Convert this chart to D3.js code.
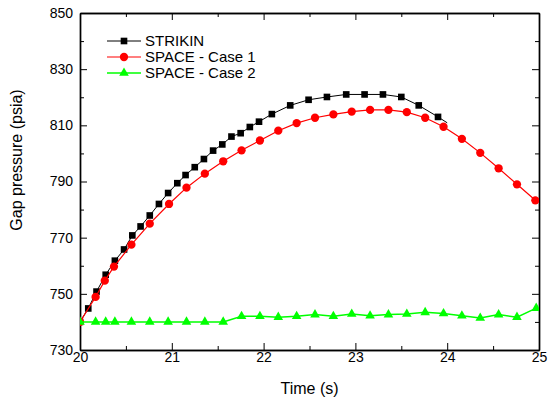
<!DOCTYPE html>
<html>
<head>
<meta charset="utf-8">
<script src="https://cdn.jsdelivr.net/npm/d3@7"></script>
<style>
    body { margin: 0; background: #fff; }
    text { font-family: Arial, "Liberation Sans", sans-serif; fill: #000; }
</style>
</head>
<body>
<div id="chart"></div>
<script>
// STRIKIN (black squares); last point is the end of the line, no marker there
var stkTime = [20.0, 20.09, 20.18, 20.28, 20.38, 20.48, 20.57, 20.66, 20.76, 20.86, 20.96,
               21.06, 21.15, 21.25, 21.35, 21.45, 21.55, 21.65, 21.75, 21.85, 21.95,
               22.09, 22.29, 22.49, 22.69, 22.9, 23.1, 23.3, 23.5, 23.69, 23.9, 24.0];
var stkVal  = [740, 744.8, 750.8, 756.8, 761.8, 765.8, 770.8, 774.0, 777.9, 782.0, 785.9,
               789.4, 792.3, 795.1, 798.0, 801.0, 803.2, 806.0, 807.2, 809.4, 811.3,
               814.0, 817.1, 819.1, 820.1, 821.0, 821.0, 821.0, 820.1, 817.1, 813.0, 810.9];

// SPACE - Case 1 (red circles)
var case1Time = [20.0, 20.17, 20.27, 20.37, 20.56, 20.76, 20.97, 21.16, 21.36, 21.56, 21.76,
                 21.96, 22.16, 22.36, 22.56, 22.76, 22.96, 23.16, 23.36, 23.56, 23.76,
                 23.96, 24.16, 24.36, 24.56, 24.76, 24.96];
var case1Val  = [740, 748.9, 754.7, 759.7, 767.5, 775.0, 782.0, 787.8, 792.8, 797.2, 801.1,
                 804.6, 808.1, 810.8, 812.7, 813.9, 814.9, 815.5, 815.5, 814.7, 812.7,
                 809.5, 805.2, 800.2, 794.7, 789.0, 783.3];

// SPACE - Case 2 (green triangles)
var case2Time = [20.0, 20.17, 20.28, 20.38, 20.56, 20.76, 20.96, 21.16, 21.36, 21.56, 21.76,
                 21.96, 22.16, 22.36, 22.56, 22.76, 22.96, 23.16, 23.36, 23.56, 23.76,
                 23.96, 24.16, 24.36, 24.56, 24.76, 24.97];
var case2Val  = [740, 740, 740, 740, 740, 740, 740, 740, 740, 740, 742.0,
                 742.0, 741.7, 742.0, 742.6, 742.0, 742.8, 742.2, 742.6, 742.8, 743.4,
                 743.0, 742.2, 741.4, 742.6, 741.7, 744.9];

var xTicks = [20, 21, 22, 23, 24, 25];
var yTicks = [730, 750, 770, 790, 810, 830, 850];
var legendNames = ["STRIKIN", "SPACE - Case 1", "SPACE - Case 2"];

var margin = {top: 13, right: 12, bottom: 50, left: 80};
var width = 551 - margin.left - margin.right,
    height = 400 - margin.top - margin.bottom;

var svg = d3.select("#chart")
            .append("svg")
              .attr("width", 551)
              .attr("height", 400)
            .append("g")
              .attr("transform", "translate(" + margin.left + "," + margin.top + ")");

var x = d3.scaleLinear().domain([20, 25]).range([0, width]);
var y = d3.scaleLinear().domain([730, 850]).range([height, 0]);

svg.append("clipPath")
    .attr("id", "plotclip")
    .append("rect")
    .attr("width", width)
    .attr("height", height);

var series = [
    {name: legendNames[0], t: stkTime, v: stkVal, color: "#000000", shape: "square", lw: 1, nMark: stkTime.length - 1},
    {name: legendNames[1], t: case1Time, v: case1Val, color: "#ff0000", shape: "circle", lw: 1.2, nMark: case1Time.length},
    {name: legendNames[2], t: case2Time, v: case2Val, color: "#00ff00", shape: "triangle", lw: 1.5, nMark: case2Time.length}
];

var symbols = {
    square: d3.symbol().type(d3.symbolSquare).size(44),
    circle: d3.symbol().type(d3.symbolCircle).size(54),
    triangle: d3.symbol().type(d3.symbolTriangle).size(40)
};

var line = d3.line()
    .x(d => x(d[0]))
    .y(d => y(d[1]));

// minor ticks
var xMinor = d3.range(20.5, 25, 1);
var yMinor = d3.range(740, 850, 20);

function minor(axis, vals) {
    return axis.tickValues(vals).tickSize(-4).tickFormat("").tickSizeOuter(0);
}

svg.append("g").attr("transform", "translate(0," + height + ")").call(minor(d3.axisBottom(x), xMinor));
svg.append("g").call(minor(d3.axisTop(x), xMinor));
svg.append("g").call(minor(d3.axisLeft(y), yMinor));
svg.append("g").attr("transform", "translate(" + width + ",0)").call(minor(d3.axisRight(y), yMinor));

// major axes
svg.append("g")
    .attr("class", "axis")
    .attr("transform", "translate(0," + height + ")")
    .call(d3.axisBottom(x).tickValues(xTicks).tickSize(-7).tickSizeOuter(0).tickPadding(2).tickFormat(d3.format("d")));

svg.append("g")
    .attr("class", "axis")
    .call(d3.axisTop(x).tickValues(xTicks).tickSize(-7).tickSizeOuter(0).tickFormat(""));

svg.append("g")
    .attr("class", "axis")
    .call(d3.axisLeft(y).tickValues(yTicks).tickSize(-7).tickSizeOuter(0).tickPadding(7).tickFormat(d3.format("d")));

svg.append("g")
    .attr("class", "axis")
    .attr("transform", "translate(" + width + ",0)")
    .call(d3.axisRight(y).tickValues(yTicks).tickSize(-7).tickSizeOuter(0).tickFormat(""));

svg.selectAll(".tick text")
    .style("font-size", "14px")
    .style("font-family", "Arial, 'Liberation Sans', sans-serif");
svg.selectAll(".domain").attr("stroke-width", 1.4);

// lines and markers
series.forEach(function(s) {
    var pts = s.t.map((t, i) => [t, s.v[i]]);
    var g = svg.append("g").attr("clip-path", "url(#plotclip)");
    g.append("path")
        .datum(pts)
        .attr("d", line)
        .style("fill", "none")
        .style("stroke", s.color)
        .style("stroke-width", s.lw);
    g.selectAll("marks")
        .data(pts.slice(0, s.nMark))
        .enter().append("path")
        .attr("d", symbols[s.shape])
        .attr("transform", d => "translate(" + x(d[0]) + "," + y(d[1]) + ")")
        .style("fill", s.color);
});

// axis titles
svg.append("text")
    .attr("x", width / 2)
    .attr("y", height + 44)
    .attr("text-anchor", "middle")
    .style("font-size", "16px")
    .text("Time (s)");

svg.append("text")
    .attr("transform", "translate(" + (-58) + "," + 147 + ") rotate(-90)")
    .attr("text-anchor", "middle")
    .style("font-size", "16px")
    .text("Gap pressure (psia)");

// legend
var legend = svg.selectAll("legend")
    .data(series)
    .enter().append("g")
    .attr("transform", (d, i) => "translate(" + 27 + "," + (28 + i * 16) + ")");

legend.append("line")
    .attr("x1", 0)
    .attr("x2", 34)
    .style("stroke", d => d.color)
    .style("stroke-width", d => d.lw);

legend.append("path")
    .attr("d", d => symbols[d.shape]())
    .attr("transform", "translate(17,0)")
    .style("fill", d => d.color);

legend.append("text")
    .attr("x", 38)
    .attr("dy", "0.35em")
    .style("font-size", "15px")
    .text(d => d.name);
</script>
</body>
</html>
